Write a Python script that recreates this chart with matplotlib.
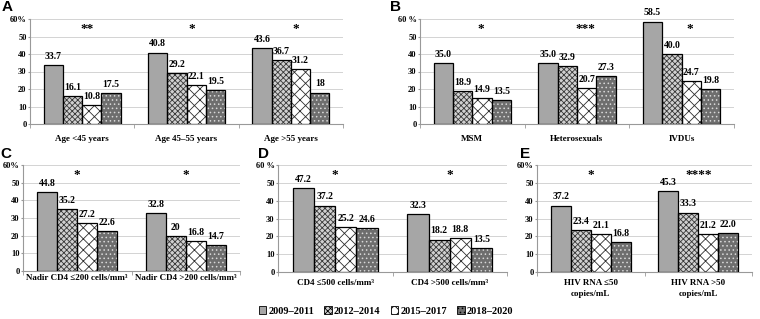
import numpy as np
import matplotlib
matplotlib.use('Agg')
import matplotlib.pyplot as plt
from matplotlib.patches import Patch

periods = ['2009\u20132011', '2012\u20132014', '2015\u20132017', '2018\u20132020']

cats_a = ['Age <45 years', 'Age 45\u201355 years', 'Age >55 years']
vals_a = [[33.7, 16.1, 10.8, 17.5], [40.8, 29.2, 22.1, 19.5], [43.6, 36.7, 31.2, 18]]
labs_a = [['33.7', '16.1', '10.8', '17.5'], ['40.8', '29.2', '22.1', '19.5'], ['43.6', '36.7', '31.2', '18']]
sig_a = ['**', '*', '*']

cats_b = ['MSM', 'Heterosexuals', 'IVDUs']
vals_b = [[35.0, 18.9, 14.9, 13.5], [35.0, 32.9, 20.7, 27.3], [58.5, 40.0, 24.7, 19.8]]
labs_b = [['35.0', '18.9', '14.9', '13.5'], ['35.0', '32.9', '20.7', '27.3'], ['58.5', '40.0', '24.7', '19.8']]
sig_b = ['*', '***', '*']

cats_c = ['Nadir CD4 \u2264200 cells/mm\u00b3', 'Nadir CD4 >200 cells/mm\u00b3']
vals_c = [[44.8, 35.2, 27.2, 22.6], [32.8, 20, 16.8, 14.7]]
labs_c = [['44.8', '35.2', '27.2', '22.6'], ['32.8', '20', '16.8', '14.7']]
sig_c = ['*', '*']

cats_d = ['CD4 \u2264500 cells/mm\u00b3', 'CD4 >500 cells/mm\u00b3']
vals_d = [[47.2, 37.2, 25.2, 24.6], [32.3, 18.2, 18.8, 13.5]]
labs_d = [['47.2', '37.2', '25.2', '24.6'], ['32.3', '18.2', '18.8', '13.5']]
sig_d = ['*', '*']

cats_e = ['HIV RNA \u226450\ncopies/mL', 'HIV RNA >50\ncopies/mL']
vals_e = [[37.2, 23.4, 21.1, 16.8], [45.3, 33.3, 21.2, 22.0]]
labs_e = [['37.2', '23.4', '21.1', '16.8'], ['45.3', '33.3', '21.2', '22.0']]
sig_e = ['*', '****']

# fill, hatch, hatch colour
styles = [('#a6a6a6', '', '#a6a6a6'),
          ('#d0d0d0', 'xxxxxx', '#383838'),
          ('white', 'xxx', '#2e2e2e'),
          ('#6e6e6e', '....', '#d8d8d8')]

plt.rcParams['hatch.linewidth'] = 0.6
serif = 'Liberation Serif'

W, H = 760, 319
fig = plt.figure(figsize=(W / 100, H / 100), dpi=100)


def add_ax(x0, x1, y0, y1):
    return fig.add_axes([x0 / W, 1 - y1 / H, (x1 - x0) / W, (y1 - y0) / H])


def panel(ax, cats, vals, labs, sigs, top_label, letter, lpos, sig_dx=0.0, xpad=5):
    n = len(cats)
    bw = 0.185
    for i in range(n):
        for j in range(4):
            x = i + 0.5 + (j - 1.5) * bw
            fc, h, hc = styles[j]
            ax.bar(x, vals[i][j], bw, color=fc, hatch=h, edgecolor=hc,
                   linewidth=0, zorder=2)
            ax.bar(x, vals[i][j], bw, fill=False, edgecolor='black',
                   linewidth=0.9, zorder=3)
            ax.annotate(labs[i][j], (x, vals[i][j]), xytext=(0, 3),
                        textcoords='offset points', ha='center', va='bottom',
                        fontsize=7, fontweight='bold', family=serif)
        ax.text(i + 0.5 + sig_dx, 54.5, sigs[i], ha='center', va='center',
                fontsize=9.5, fontweight='bold', family=serif)
    ax.set_xlim(0, n)
    ax.set_ylim(0, 60)
    ax.set_yticks(range(0, 61, 10))
    ax.set_yticklabels(['0', '10', '20', '30', '40', '50', top_label],
                       fontsize=6, fontweight='bold', family=serif)
    ax.set_xticks([i + 0.5 for i in range(n)])
    ax.set_xticklabels(cats, fontsize=6.5, fontweight='bold', family=serif,
                       linespacing=1.5)
    ax.set_xticks(range(n + 1), minor=True)
    ax.tick_params(axis='x', which='major', length=0, pad=xpad)
    ax.tick_params(axis='x', which='minor', length=3, color='#999999')
    ax.tick_params(axis='y', length=1.5, color='#999999', pad=1)
    ax.grid(axis='y', color='#cccccc', linewidth=0.6, zorder=0)
    ax.set_axisbelow(True)
    for s in ['top', 'right']:
        ax.spines[s].set_visible(False)
    for s in ['left', 'bottom']:
        ax.spines[s].set_color('#999999')
        ax.spines[s].set_linewidth(0.8)
    fig.text(lpos[0] / W, 1 - lpos[1] / H, letter, fontsize=11,
             fontweight='bold', family='Liberation Sans', va='top', ha='left')


ax_a = add_ax(30, 343, 19, 124)
panel(ax_a, cats_a, vals_a, labs_a, sig_a, '60%', 'A', (2, 0), 0.05, xpad=8)
ax_b = add_ax(420, 734, 19, 124)
panel(ax_b, cats_b, vals_b, labs_b, sig_b, '60 %', 'B', (390, 0), 0.08, xpad=8)
ax_c = add_ax(23, 240, 165, 271)
panel(ax_c, cats_c, vals_c, labs_c, sig_c, '60%', 'C', (0, 147), xpad=2)
ax_d = add_ax(278, 507, 165, 272)
panel(ax_d, cats_d, vals_d, labs_d, sig_d, '60 %', 'D', (258, 147), xpad=5)
ax_e = add_ax(537, 752, 165, 272)
panel(ax_e, cats_e, vals_e, labs_e, sig_e, '60%', 'E', (520, 147), xpad=5)

handles = [Patch(facecolor=fc, hatch=h, edgecolor='black', linewidth=0.6)
           for fc, h, hc in styles]
fig.legend(handles, periods, loc='center', bbox_to_anchor=(386 / W, 1 - 311 / H),
           ncol=4, frameon=False, handlelength=0.7, handleheight=0.7,
           handletextpad=0.2, columnspacing=1.0,
           prop={'family': serif, 'weight': 'bold', 'size': 7.5})

fig.savefig('out.png', dpi=100)
